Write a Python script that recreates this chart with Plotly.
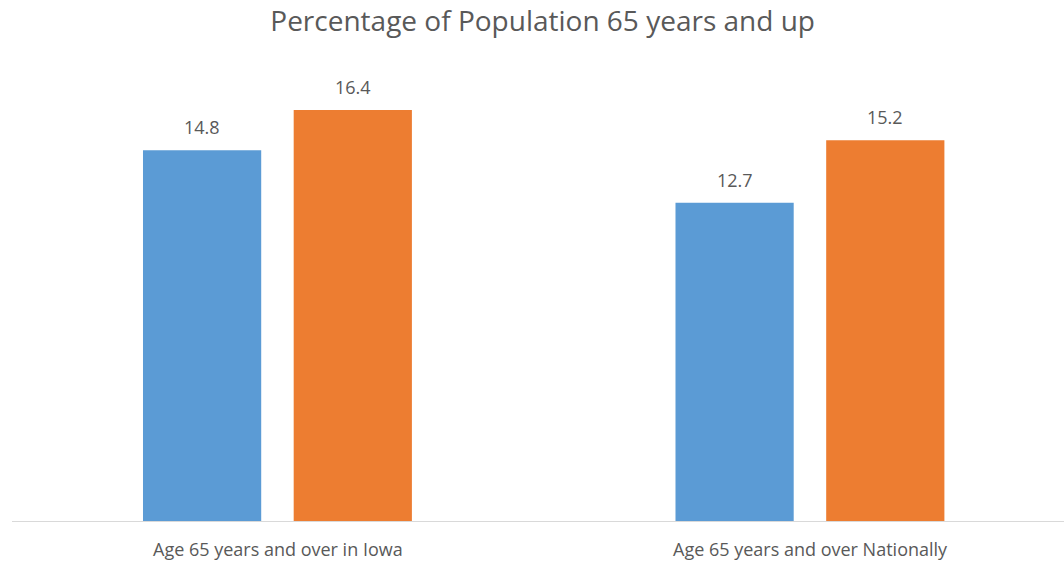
import plotly.graph_objects as go

categories = ["Age 65 years and over in Iowa", "Age 65 years and over Nationally"]
series_a = [14.8, 12.7]
series_b = [16.4, 15.2]
title_text = "Percentage of Population 65 years and up"

blue = "#5B9BD5"
orange = "#ED7D31"
label_color = "#595959"
font_family = "'Open Sans', sans-serif"

x_idx = list(range(len(categories)))

bar_w = 0.222
off_a = -0.254
off_b = 0.029

fig = go.Figure()
fig.add_trace(go.Bar(x=x_idx, y=series_a, width=bar_w, offset=off_a,
                     marker=dict(color=blue, line=dict(width=0)), showlegend=False))
fig.add_trace(go.Bar(x=x_idx, y=series_b, width=bar_w, offset=off_b,
                     marker=dict(color=orange, line=dict(width=0)), showlegend=False))

annotations = []
for offs, series in ((off_a, series_a), (off_b, series_b)):
    for i, v in enumerate(series):
        annotations.append(dict(x=i + offs + bar_w / 2, y=v, text=f"{v:.1f}", showarrow=False,
                                yanchor="middle", yshift=23, xref="x", yref="y",
                                font=dict(size=18, color=label_color, family=font_family)))
for i, c in enumerate(categories):
    annotations.append(dict(x=i, y=0, text=c, showarrow=False, yanchor="middle",
                            yshift=-28, xref="x", yref="y",
                            font=dict(size=18, color=label_color, family=font_family)))

fig.update_layout(
    width=1064, height=562,
    margin=dict(l=12, r=0, t=70, b=41),
    paper_bgcolor="white", plot_bgcolor="white",
    title=dict(text=title_text, x=0.51, xanchor="center", y=0.962, yanchor="middle",
               font=dict(size=28, color=label_color, family=font_family)),
    xaxis=dict(range=[-0.5, 1.4756], showticklabels=False, showgrid=False, zeroline=False,
               showline=True, linecolor="#D9D9D9", linewidth=1, ticks=""),
    yaxis=dict(range=[0, 18], visible=False, showgrid=False, zeroline=False),
    annotations=annotations,
    barmode="overlay",
)

fig.write_html("out.html")
